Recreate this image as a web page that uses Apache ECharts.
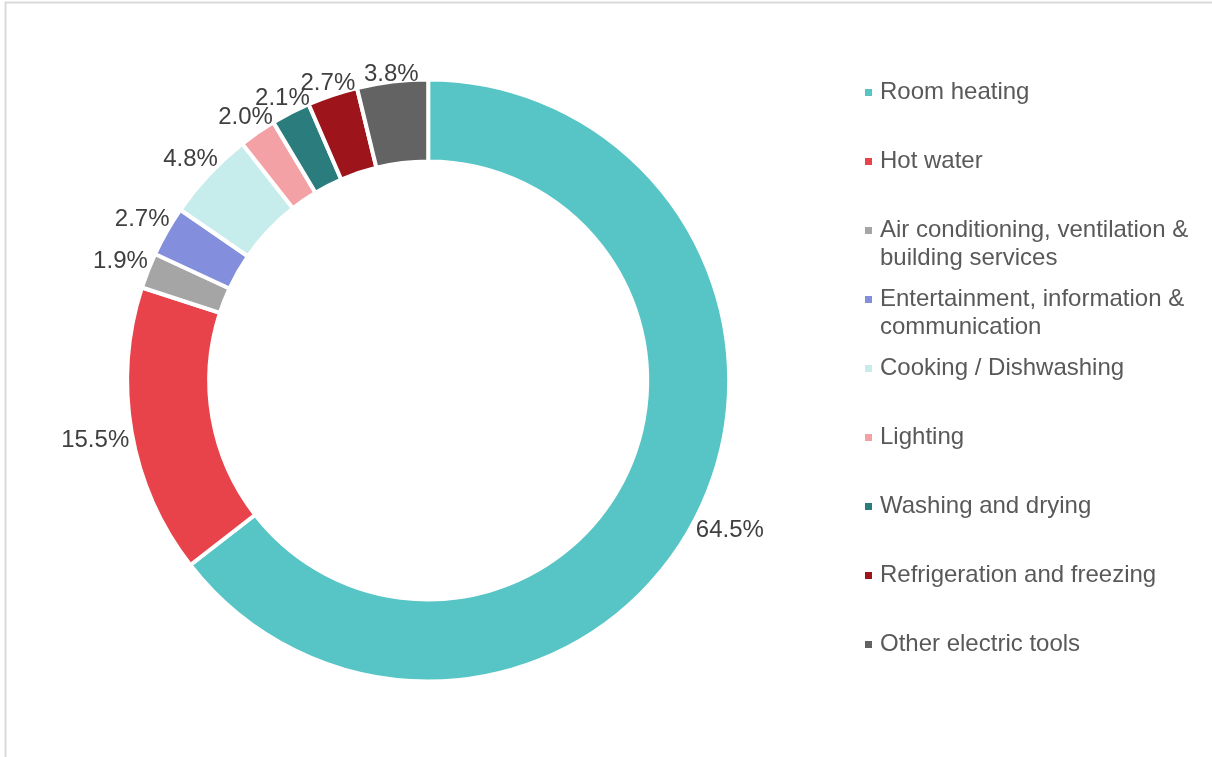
<!DOCTYPE html>
<html>
<head>
<meta charset="utf-8">
<title>Household energy use by application</title>
<script src="https://cdn.jsdelivr.net/npm/echarts@6/dist/echarts.min.js"></script>
<style>
  html, body { margin: 0; padding: 0; background: #ffffff; }
  #chart { width: 1212px; height: 757px; }
</style>
</head>
<body>
<div id="chart"></div>
<script>
// Share of household final energy use by application (%)
const categories = [
  'Room heating',
  'Hot water',
  'Air conditioning, ventilation & building services',
  'Entertainment, information & communication',
  'Cooking / Dishwashing',
  'Lighting',
  'Washing and drying',
  'Refrigeration and freezing',
  'Other electric tools'
];
const legendLabels = [
  'Room heating',
  'Hot water',
  'Air conditioning, ventilation &\nbuilding services',
  'Entertainment, information &\ncommunication',
  'Cooking / Dishwashing',
  'Lighting',
  'Washing and drying',
  'Refrigeration and freezing',
  'Other electric tools'
];
const shares = [64.5, 15.5, 1.9, 2.7, 4.8, 2.0, 2.1, 2.7, 3.8];
const colors = ['#57C4C5', '#E8434A', '#A5A5A5', '#838EDC', '#C7ECEC', '#F3A1A5', '#2B7C7C', '#9E141B', '#636363'];

// ring geometry
const CX = 428.2, CY = 380.5;
const R_OUT = 299, R_IN = 221, SLICE_GAP = 4;
const FONT = '"Liberation Sans", Arial, sans-serif';
const FONT_SIZE = 24;

const total = shares.reduce((a, b) => a + b, 0);
const midAngles = [];
let acc = 0;
shares.forEach(v => {
  midAngles.push(((acc + v / 2) / total) * 2 * Math.PI);
  acc += v;
});

// one legend block per entry so that every entry keeps the same pitch
const LEGEND_FIRST = 92.5, LEGEND_STEP = 69, LINE_H = 28;
const legends = categories.map((name, i) => {
  const wrapped = legendLabels[i].indexOf('\n') >= 0;
  const lines = wrapped ? 3 : 1;
  return {
    data: [name],
    left: 865,
    top: LEGEND_FIRST + i * LEGEND_STEP - lines * LINE_H / 2,
    orient: 'vertical',
    padding: 0,
    icon: 'rect',
    itemWidth: 7,
    itemHeight: 7,
    itemStyle: { borderWidth: 0 },
    selectedMode: false,
    formatter: () => (wrapped ? '\n' : '') + legendLabels[i],
    textStyle: {
      fontFamily: FONT,
      fontSize: FONT_SIZE,
      lineHeight: LINE_H,
      color: '#595959',
      padding: [0, 0, 0, 3]
    }
  };
});

const chart = echarts.init(document.getElementById('chart'), null, { renderer: 'canvas' });
chart.setOption({
  backgroundColor: '#ffffff',
  animation: false,
  graphic: [{
    type: 'rect',
    silent: true,
    shape: { x: 5.5, y: 2.5, width: 1400, height: 1000 },
    style: { fill: 'none', stroke: '#D9D9D9', lineWidth: 2 }
  }],
  legend: legends,
  series: [{
    type: 'pie',
    center: [CX, CY],
    radius: [R_IN - SLICE_GAP / 2, R_OUT + SLICE_GAP / 2],
    startAngle: 90,
    clockwise: true,
    avoidLabelOverlap: false,
    itemStyle: { borderColor: '#ffffff', borderWidth: SLICE_GAP },
    emphasis: { disabled: true },
    label: {
      show: true,
      position: 'outside',
      formatter: p => p.value.toFixed(1) + '%',
      fontFamily: FONT,
      fontSize: FONT_SIZE,
      color: '#404040'
    },
    labelLine: { show: false },
    // each value label sits just outside the ring on its slice's mid-angle
    labelLayout: function (params) {
      const a = midAngles[params.dataIndex];
      const s = Math.sin(a), c = Math.cos(a);
      const hw = params.labelRect.width / 2;
      const d = R_OUT + 5 + hw * Math.abs(s) + 3 * Math.abs(c);
      return {
        x: CX + s * d,
        y: CY - c * d + 2,
        align: 'center',
        verticalAlign: 'middle'
      };
    },
    data: categories.map((name, i) => ({
      name: name,
      value: shares[i],
      itemStyle: { color: colors[i] }
    }))
  }]
});
</script>
</body>
</html>
